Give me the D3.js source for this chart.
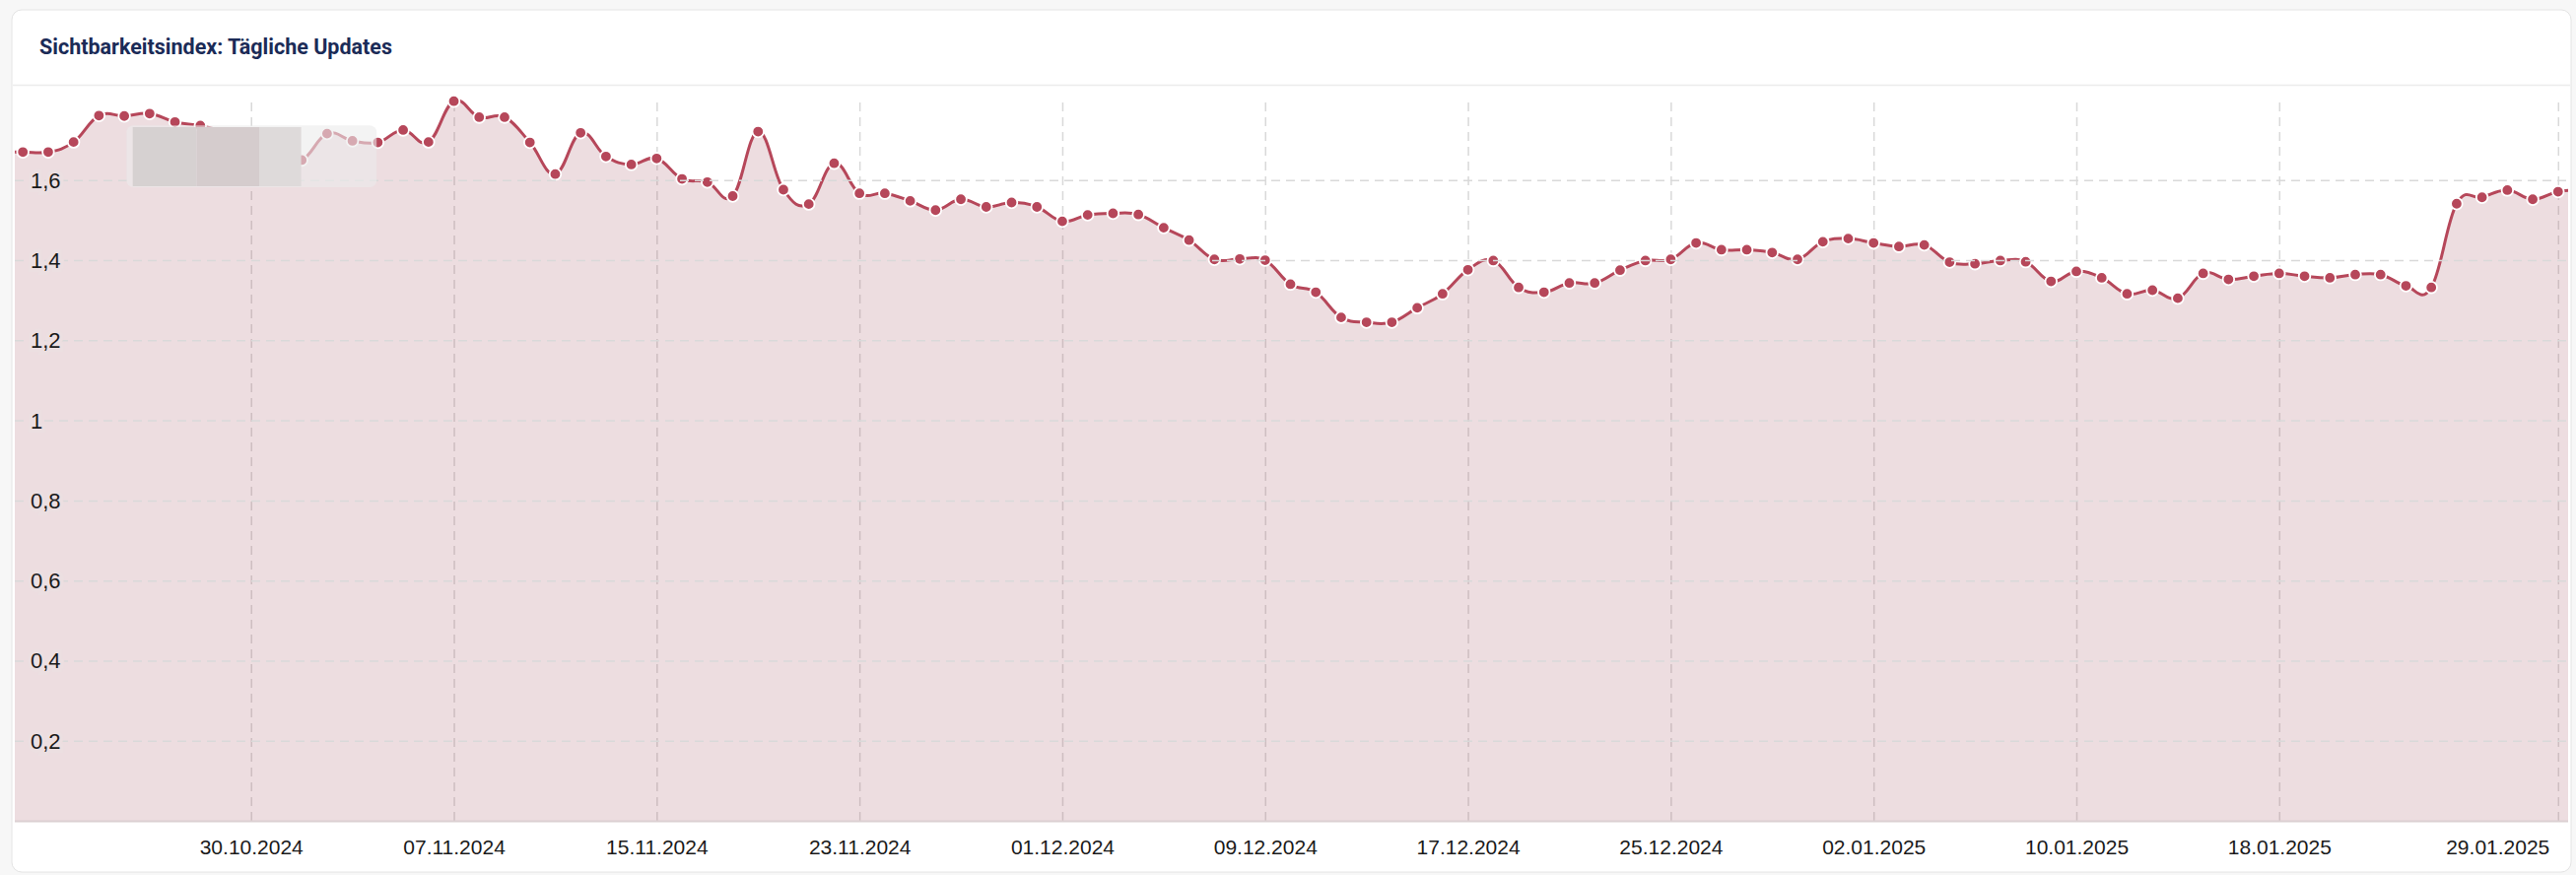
<!DOCTYPE html>
<html>
<head>
<meta charset="utf-8">
<script src="https://cdn.jsdelivr.net/npm/d3@7"></script>
<style>
  html, body { margin: 0; padding: 0; background: #f7f7f7; }
  svg { display: block; }
</style>
</head>
<body>
<svg id="chart" width="2614" height="888"></svg>
<script>
// ---------- data ----------
const chartTitle = "Sichtbarkeitsindex: Tägliche Updates";
const firstDate = "20.10.2024";   // first daily value (partly outside the plot)
const lastDate  = "30.01.2025";   // last daily value (partly outside the plot)
const values = [
  1.670, 1.670, 1.670, 1.695, 1.761, 1.760, 1.766, 1.745, 1.736, 1.720, 1.700, 1.660, // 20.10 - 31.10
  1.650, 1.716, 1.698, 1.694, 1.725, 1.695, 1.797, 1.757, 1.757, 1.694,               // 01.11 - 10.11
  1.615, 1.718, 1.659, 1.639, 1.654, 1.603, 1.595, 1.560, 1.721, 1.576,               // 11.11 - 20.11
  1.540, 1.642, 1.567, 1.567, 1.548, 1.525, 1.552, 1.533, 1.544, 1.533,               // 21.11 - 30.11
  1.497, 1.513, 1.517, 1.514, 1.481, 1.450, 1.402, 1.403, 1.400, 1.340,               // 01.12 - 10.12
  1.320, 1.257, 1.245, 1.245, 1.281, 1.316, 1.376, 1.399, 1.332, 1.320,               // 11.12 - 20.12
  1.343, 1.343, 1.375, 1.399, 1.402, 1.443, 1.426, 1.426, 1.419, 1.402, 1.446,        // 21.12 - 31.12
  1.454, 1.443, 1.434, 1.438, 1.395, 1.391, 1.399, 1.396, 1.347, 1.372,               // 01.01 - 10.01
  1.356, 1.316, 1.325, 1.305, 1.367, 1.352, 1.360, 1.367, 1.360, 1.356,               // 11.01 - 20.01
  1.364, 1.364, 1.336, 1.332, 1.541, 1.557, 1.575, 1.552, 1.571, 1.575                // 21.01 - 30.01
];
const xTickLabels = ["30.10.2024","07.11.2024","15.11.2024","23.11.2024","01.12.2024","09.12.2024",
                     "17.12.2024","25.12.2024","02.01.2025","10.01.2025","18.01.2025","29.01.2025"];
const yTickValues = [0.2, 0.4, 0.6, 0.8, 1, 1.2, 1.4, 1.6];
const viewStart = "21.10.2024";
const viewEnd   = "29.01.2025";

// ---------- layout ----------
const card = { x: 12, y: 10, w: 2597, h: 875 };
const plot = { left: 15, right: 2606, top: 102.7, bottom: 833 };
const xFirst = 23.2, xLast = 2595.8;

const parse = d3.utcParse("%d.%m.%Y");
const dates = d3.utcDay.range(parse(firstDate), d3.utcDay.offset(parse(lastDate), 1));
const data = dates.map((d, i) => ({ date: d, value: values[i] }));
const visible = data.filter(d => d.date >= parse(viewStart) && d.date <= parse(viewEnd));

const x = d3.scaleUtc().domain([parse(viewStart), parse(viewEnd)]).range([xFirst, xLast]);
const y = d3.scaleLinear().domain([0, d3.max(visible, d => d.value)]).range([plot.bottom, plot.top]);

const de = d3.formatLocale({ decimal: ",", thousands: ".", grouping: [3], currency: ["", " €"] });
const yFmt = de.format(".2~f");
const xFmt = d3.utcFormat("%d.%m.%Y");

const svg = d3.select("#chart");

// card
svg.append("rect").attr("x", card.x).attr("y", card.y).attr("width", card.w).attr("height", card.h)
  .attr("rx", 10).attr("fill", "#ffffff").attr("stroke", "#e4e4e4").attr("stroke-width", 1);
svg.append("text").attr("x", 40).attr("y", 55).text(chartTitle)
  .attr("font-family", "Roboto, 'Noto Sans', sans-serif").attr("font-weight", 700)
  .attr("font-size", 21.5).attr("fill", "#1b2b57");
svg.append("line").attr("x1", card.x + 1).attr("x2", card.x + card.w - 1).attr("y1", 86.5).attr("y2", 86.5)
  .attr("stroke", "#ececec").attr("stroke-width", 1.5);

// clip
svg.append("clipPath").attr("id", "plotclip").append("rect")
  .attr("x", plot.left).attr("y", 0).attr("width", plot.right - plot.left).attr("height", plot.bottom);

// grid: horizontal
const yAxis = d3.axisLeft(y).tickValues(yTickValues).tickFormat(yFmt).tickSize(-(plot.right - plot.left)).tickPadding(0);
const gy = svg.append("g").attr("transform", `translate(${plot.left},0)`).call(yAxis);
gy.select(".domain").remove();
gy.selectAll(".tick line").attr("stroke", "#d9d9d9").attr("stroke-width", 1.5).attr("stroke-dasharray", "9,6");

// grid: vertical
const xTicks = xTickLabels.map(parse);
const xAxis = d3.axisBottom(x).tickValues(xTicks).tickFormat(xFmt).tickSize(-(plot.bottom - plot.top)).tickPadding(0);
const gx = svg.append("g").attr("transform", `translate(0,${plot.bottom})`).call(xAxis);
gx.select(".domain").remove();
gx.selectAll(".tick line").attr("stroke", "#d9d9d9").attr("stroke-width", 1.5).attr("stroke-dasharray", "9,6");

// area + line
const curve = d3.curveCardinal.tension(-0.2);
const area = d3.area().x(d => x(d.date)).y0(y(0)).y1(d => y(d.value)).curve(curve);
const line = d3.line().x(d => x(d.date)).y(d => y(d.value)).curve(curve);
const series = svg.append("g").attr("clip-path", "url(#plotclip)");
series.append("path").datum(data).attr("d", area).attr("fill", "rgb(160,75,90)").attr("fill-opacity", 0.19);
series.append("path").datum(data).attr("d", line).attr("fill", "none")
  .attr("stroke", "#b6475a").attr("stroke-width", 3).attr("stroke-linejoin", "round");

// bottom axis line
svg.append("line").attr("x1", plot.left).attr("x2", plot.right).attr("y1", plot.bottom + 0.5).attr("y2", plot.bottom + 0.5)
  .attr("stroke", "#dbd0d2").attr("stroke-width", 2);

// markers
svg.append("g").selectAll("circle").data(visible).join("circle")
  .attr("cx", d => x(d.date)).attr("cy", d => y(d.value)).attr("r", 5.8)
  .attr("fill", "#b6475a").attr("stroke", "#ffffff").attr("stroke-width", 1.8);

// y labels (on top)
gy.selectAll(".tick text")
  .attr("x", 16).attr("dy", "0.34em").attr("text-anchor", "start")
  .attr("font-family", "'Liberation Sans', Arial, sans-serif").attr("font-size", 22).attr("fill", "#1a1a1a")
  .attr("stroke", "#ecdfe1").attr("stroke-width", 8).attr("paint-order", "stroke");

// x labels
gx.selectAll(".tick text")
  .attr("y", 34).attr("dy", 0)
  .attr("font-family", "'Liberation Sans', Arial, sans-serif").attr("font-size", 21).attr("fill", "#1a1a1a");
gx.selectAll(".tick text").filter((d, i, n) => i === n.length - 1)
  .attr("text-anchor", "end").attr("dx", -9);
svg.node().appendChild(gy.node());

// redaction overlay (as in the reference)
const red = svg.append("g");
red.append("rect").attr("x", 128.4).attr("y", 127.3).attr("width", 253.8).attr("height", 62.7).attr("rx", 7)
  .attr("fill", "#ebebeb").attr("fill-opacity", 0.6);
const blocks = [[134.7, 199.5, "#d6d1d1"], [199.5, 263, "#d5cccd"], [263, 305.6, "#dedada"]];
red.selectAll("rect.b").data(blocks).join("rect").attr("class", "b")
  .attr("x", d => d[0]).attr("width", d => d[1] - d[0]).attr("y", 129).attr("height", 60).attr("fill", d => d[2]);
</script>
</body>
</html>
